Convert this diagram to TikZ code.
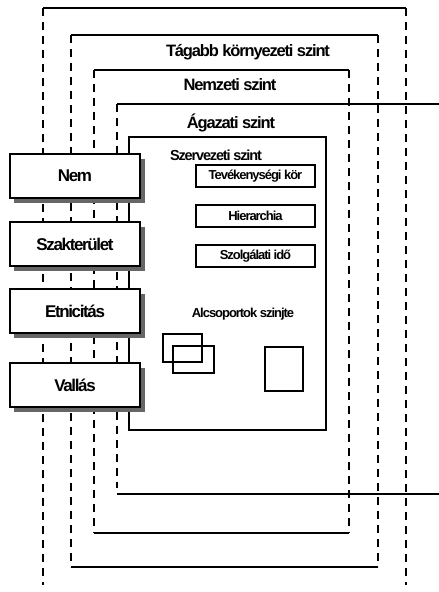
\documentclass[tikz,border=0pt]{standalone}
\usepackage{fontspec}
\setmainfont{Liberation Sans}
\begin{document}
\begin{tikzpicture}[x=1pt,y=-1pt,
  frame/.style={line width=2pt},
  dframe/.style={line width=2.2pt,dash pattern=on 8pt off 6pt},
  title/.style={font=\fontsize{16.5}{18}\selectfont\bfseries\addfontfeature{LetterSpace=-7}},
  leftbox/.style={draw,line width=1.3pt,fill=white,minimum width=130pt,minimum height=44pt,inner sep=0pt,
     font=\fontsize{17}{18}\selectfont\bfseries\addfontfeature{LetterSpace=-8}},
  smallbox/.style={draw,line width=1.4pt,fill=white,minimum height=22pt,inner sep=0pt,
     font=\fontsize{13}{14}\selectfont\bfseries\addfontfeature{LetterSpace=-8}},
  plainbox/.style={draw,line width=1.4pt,inner sep=0pt},
  shadowfill/.style={fill=black!60}
]
\useasboundingbox (0,0) rectangle (439,592);
% outer frame (open at bottom)
\draw[frame] (43,8) -- (406,8);
\draw[dframe] (43,8) -- (43,585);
\draw[dframe] (406,8) -- (406,585);
% second frame
\draw[frame] (71,35) -- (378,35);
\draw[frame] (71,567) -- (378,567);
\draw[dframe] (71,35) -- (71,567);
\draw[dframe] (378,35) -- (378,567);
% third frame
\draw[frame] (94,70) -- (349,70);
\draw[frame] (94,533) -- (349,533);
\draw[dframe] (94,70) -- (94,533);
\draw[dframe] (349,70) -- (349,533);
% fourth frame (open to the right)
\draw[frame] (117,104) -- (439,104);
\draw[frame] (117,494) -- (439,494);
\draw[dframe] (117,104) -- (117,488);
% level titles
\node[title] (t1) at (248,52) {Tágabb környezeti szint};
\node[title] (t2) at (230,85) {Nemzeti szint};
\node[title] (t3) at (231,123) {Ágazati szint};
% organisational level box
\node[draw,line width=1.3pt,fill=white,minimum width=197pt,minimum height=293pt,inner sep=0pt] (org) at (227.5,283.5) {};
\node[font=\fontsize{14.5}{16}\selectfont\bfseries\addfontfeature{LetterSpace=-8}] (orgt) at (216,155) {Szervezeti szint};
\node[smallbox,minimum width=119pt] (s1) at (255.5,176) {Tevékenységi kör};
\node[smallbox,minimum width=119pt] (s2) at (255.5,216) {Hierarchia};
\node[smallbox,minimum width=119pt] (s3) at (255.5,256) {Szolgálati idő};
\node[font=\fontsize{13}{14}\selectfont\bfseries\addfontfeature{LetterSpace=-8}] (alt) at (243,314) {Alcsoportok szinjte};
\node[plainbox,minimum width=39pt,minimum height=28pt] (g1) at (182.5,348) {};
\node[plainbox,minimum width=41pt,minimum height=27pt] (g2) at (193.5,359.5) {};
\node[plainbox,minimum width=38pt,minimum height=44pt] (g3) at (284,369) {};
% left boxes with shadows
\foreach \n/\y/\t in {nem/176/Nem,szak/244/Szakterület,etn/311/Etnicitás,val/385/Vallás}{
  \fill[shadowfill] (14,\y-17) rectangle (145,\y+27);
  \node[leftbox] (\n) at (75,\y) {\t};
}
\end{tikzpicture}
\end{document}
